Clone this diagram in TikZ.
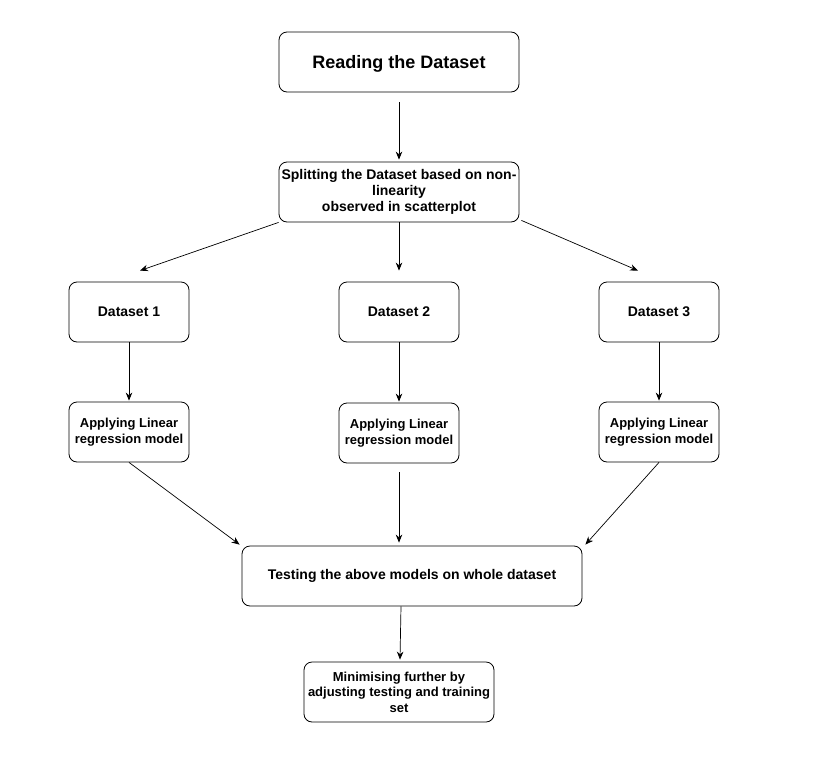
\documentclass[tikz,border=0pt]{standalone}
\usepackage{fontspec}
\setmainfont{Liberation Sans}
\usetikzlibrary{arrows.meta}

\tikzset{
  stepbox/.style={draw, rounded corners=8pt, line width=0.8pt, align=center,
    font=\bfseries\fontsize{14}{16}\selectfont, inner sep=1pt},
  smallbox/.style={stepbox, font=\bfseries\fontsize{13}{15.5}\selectfont},
  arr/.style={-{Stealth[length=8pt,width=6.5pt]}, line width=0.7pt}
}

\begin{document}
\begin{tikzpicture}[x=1pt,y=-1pt]
%\draw[help lines] (0,0) grid (833,763);
\useasboundingbox (0,0) rectangle (833,763);

 \node[stepbox, minimum width=240pt, minimum height=60pt, text depth=0pt,
   font=\bfseries\fontsize{18}{20}\selectfont] (read) at (399,62) {Reading the Dataset};
 \node[stepbox, minimum width=240pt, minimum height=60pt] (split) at (399,192)
   {Splitting the Dataset based on non-\\linearity\\observed in scatterplot};

 \node[stepbox, minimum width=120pt, minimum height=60pt] (d1) at (129,312) {Dataset 1};
 \node[stepbox, minimum width=120pt, minimum height=60pt] (d2) at (399,312) {Dataset 2};
 \node[stepbox, minimum width=120pt, minimum height=60pt] (d3) at (659,312) {Dataset 3};

 \node[smallbox, minimum width=120pt, minimum height=60pt] (a1) at (129,432) {Applying Linear\\regression model};
 \node[smallbox, minimum width=120pt, minimum height=60pt] (a2) at (399,433) {Applying Linear\\regression model};
 \node[smallbox, minimum width=120pt, minimum height=60pt] (a3) at (659,432) {Applying Linear\\regression model};

 \node[stepbox, minimum width=340pt, minimum height=60pt] (test) at (412,576)
   {Testing the above models on whole dataset};
 \node[smallbox, minimum width=190pt, minimum height=60pt] (min) at (399,692)
   {Minimising further by\\adjusting testing and training\\set};

 % arrows
 \draw[arr] ([yshift=-10pt]read.south) -- ([yshift=2pt]split.north);
 \draw[arr] (split.south west) -- ([xshift=11pt,yshift=11pt]d1.north);
 \draw[arr] (split.south) -- ([yshift=11pt]d2.north);
 \draw[arr] ([xshift=2pt,yshift=2pt]split.south east) -- ([xshift=-21pt,yshift=11pt]d3.north);

 \draw[arr] (d1.south) -- ([yshift=1pt]a1.north);
 \draw[arr] (d2.south) -- ([yshift=1pt]a2.north);
 \draw[arr] (d3.south) -- ([yshift=1pt]a3.north);

 \draw[arr] (a1.south) -- ([xshift=-2pt,yshift=1pt]test.north west);
 \draw[arr] ([yshift=-9pt]a2.south) -- ([xshift=-13pt,yshift=3pt]test.north);
 \draw[arr] (a3.south) -- ([xshift=3pt,yshift=1pt]test.north east);

 \draw[arr] ([xshift=-11pt]test.south) -- ([xshift=1pt,yshift=2pt]min.north);

\end{tikzpicture}
\end{document}
